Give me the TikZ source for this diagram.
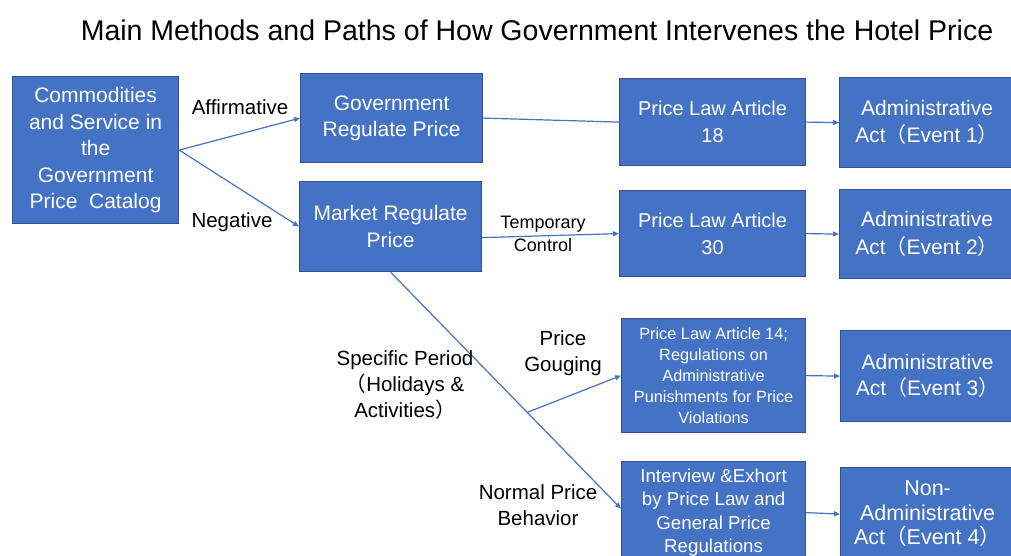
\documentclass[tikz,border=0pt]{standalone}
\usepackage{fontspec}
\setmainfont{Liberation Sans}
\newfontfamily\cjk{Noto Sans CJK SC}
\usetikzlibrary{arrows.meta,calc}
\definecolor{boxblue}{HTML}{4472C4}
\definecolor{boxedge}{HTML}{2F528F}
% full-width parentheses
\newcommand{\lp}{{\cjk （}}
\newcommand{\rp}{{\cjk ）}}
\newcommand{\fs}[2]{\fontsize{#1}{#2}\selectfont}

\begin{document}
\begin{tikzpicture}[x=1pt,y=-1pt,
  box/.style={draw=boxedge, fill=boxblue, line width=1.2pt, text=white,
    align=center, inner sep=0pt, anchor=north west},
  link/.style={draw=boxblue, line width=1.2pt, -{Triangle[length=6pt,width=5pt]}},
  plain/.style={draw=boxblue, line width=1.2pt},
  lbl/.style={align=center, inner sep=0pt, text=black}]
\useasboundingbox (0,0) rectangle (1011,556);
\clip (0,0) rectangle (1011,556);

% title
\node[lbl, font=\fs{28.5}{34}] (title) at (537,30)
  {Main Methods and Paths of How Government Intervenes the Hotel Price};

% boxes
\node[box, minimum width=166pt, minimum height=147pt, font=\fs{21}{26.5}] (A) at (12,76)
  {Commodities\\and Service in\\the\\Government\\Price\ \ Catalog};
\node[box, minimum width=182pt, minimum height=89pt, font=\fs{21}{26.5}] (B) at (300,73)
  {Government\\Regulate Price};
\node[box, minimum width=182pt, minimum height=90pt, font=\fs{21}{26.5}] (C) at (299,181)
  {Market Regulate\\Price};
\node[box, minimum width=186pt, minimum height=87pt, font=\fs{20}{27}] (D) at (619,78)
  {Price Law Article\\18};
\node[box, minimum width=175pt, minimum height=90pt, font=\fs{21}{27.5}] (E) at (839,77)
  {Administrative\\Act\lp Event 1\rp};
\node[box, minimum width=186pt, minimum height=86pt, font=\fs{20}{27}] (F) at (619,190)
  {Price Law Article\\30};
\node[box, minimum width=175pt, minimum height=89pt, font=\fs{21}{27.5}] (G) at (839,189)
  {Administrative\\Act\lp Event 2\rp};
\node[box, minimum width=184pt, minimum height=114pt, font=\fs{16.3}{21}] (H) at (621,318)
  {Price Law Article 14;\\Regulations on\\Administrative\\Punishments for Price\\Violations};
\node[box, minimum width=174pt, minimum height=91pt, font=\fs{21}{26}] (I) at (840,330)
  {Administrative\\Act\lp Event 3\rp};
\node[box, minimum width=184pt, minimum height=102pt, font=\fs{18.7}{23.5}] (J) at (621,461)
  {Interview \&Exhort\\by Price Law and\\General Price\\Regulations};
\node[box, minimum width=174pt, minimum height=93pt, font=\fs{21.5}{24.5}] (K) at (840,467)
  {Non-\\Administrative\\Act\lp Event 4\rp};

% branch point on the diagonal path
\coordinate (br) at ($(C.south)!0.593!([yshift=4pt]J.west)$);

% connectors
\draw[link] (A.east) -- (B.west);
\draw[link] (A.east) -- (C.west);
\draw[plain] (B.east) -- (D.west);
\draw[link] ([yshift=-11pt]C.east) -- (F.west);
\draw[link] (D.east) -- (E.west);
\draw[link] (F.east) -- (G.west);
\draw[link] (C.south) -- ([yshift=4pt]J.west);
\draw[link] (br) -- (H.west);
\draw[link] (H.east) -- (I.west);
\draw[link] (J.east) -- (K.west);

% connector labels
\node[lbl, font=\fs{20.5}{26}] (laff) at (240,107) {Affirmative};
\node[lbl, font=\fs{20.5}{26}] (lneg) at (232,222) {Negative};
\node[lbl, font=\fs{18}{22.5}] (ltmp) at (543,234) {Temporary\\Control};
\node[lbl, font=\fs{20.5}{26}] (lgou) at (563,353) {Price\\Gouging};
\node[lbl, font=\fs{20.5}{26}] (lper) at (405,385)
  {Specific Period\\\lp Holidays \&\\Activities\rp};
\node[lbl, font=\fs{20.5}{26.5}] (lnor) at (538,505) {Normal Price\\Behavior};
\end{tikzpicture}
\end{document}
